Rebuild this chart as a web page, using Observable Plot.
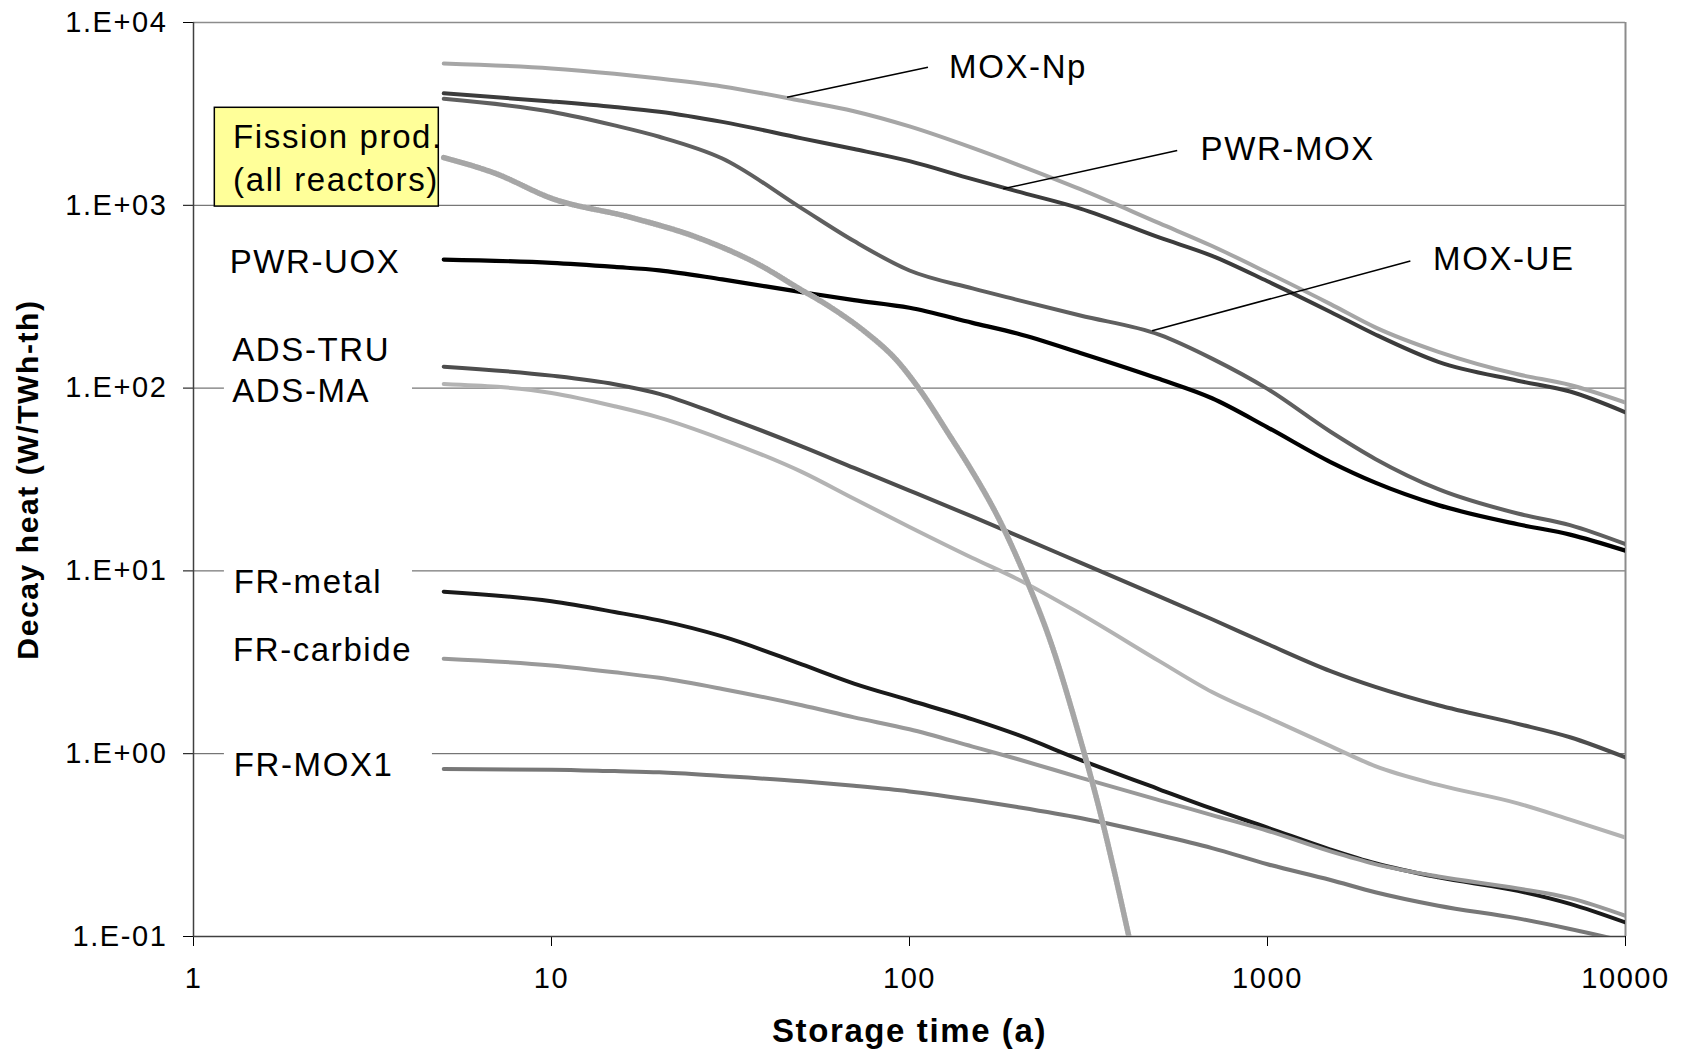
<!DOCTYPE html>
<html>
<head>
<meta charset="utf-8">
<script src="https://cdn.jsdelivr.net/npm/d3@7"></script>
<script src="https://cdn.jsdelivr.net/npm/@observablehq/plot@0.6"></script>
<style>
  body { margin: 0; background: #ffffff; }
  #chart svg text { letter-spacing: 1.6px; }
  #chart g[aria-label="annotation"] text { letter-spacing: 2.1px; }
  #chart g[aria-label="axis-title"] text { letter-spacing: -0.3px; }
</style>
</head>
<body>
<div id="chart"></div>
<script>
// ---- data (storage time in years, decay heat in W/TWh-th) ----
const years = [5, 10, 15, 20, 30, 50, 70, 100, 150, 200, 300, 500, 700, 1000, 1500, 2000, 3000, 5000, 7000, 10000];

const moxNp     = [5970, 5610, 5240, 4940, 4470, 3730, 3270, 2700, 2060, 1671, 1225, 796, 599, 428, 288, 215, 158, 119, 104, 83.3];
const pwrMox    = [4100, 3700, 3450, 3250, 2860, 2324, 2032, 1744, 1390, 1191, 960, 665, 529, 384, 261, 196.5, 139.2, 109.8, 95.8, 73.7];
const moxUe     = [3823, 3250, 2735, 2371, 1803, 962, 637, 440, 351, 304, 249.5, 195.5, 145, 99, 57.7, 41, 28.0, 20.6, 17.8, 14.0];
const pwrUox    = [505, 484, 460, 441, 393, 335, 303, 275, 227.5, 199, 155.8, 112, 88, 61, 39.4, 30.4, 22.9, 18.0, 15.8, 12.9];
const adsTru    = [131, 117, 105, 93, 70.5, 48.0, 36.6, 27.5, 19.8, 15.6, 11.1, 7.23, 5.44, 3.98, 2.83, 2.32, 1.84, 1.457, 1.23, 0.954];
const adsMa     = [105.4, 94.1, 79.6, 69.0, 52.5, 34.8, 24.8, 17.4, 11.77, 9.03, 5.83, 3.20, 2.175, 1.579, 1.10, 0.855, 0.675, 0.535, 0.436, 0.348];
const frMetal   = [7.70, 6.82, 5.96, 5.36, 4.38, 3.08, 2.42, 1.96, 1.54, 1.27, 0.926, 0.637, 0.50, 0.394, 0.299, 0.2515, 0.2106, 0.1777, 0.1508, 0.1193];
const frCarbide = [3.31, 3.04, 2.79, 2.60, 2.26, 1.84, 1.58, 1.36, 1.094, 0.935, 0.74, 0.556, 0.4617, 0.379, 0.292, 0.249, 0.2129, 0.1833, 0.1622, 0.1298];
const frMox1    = [0.824, 0.818, 0.803, 0.791, 0.755, 0.706, 0.667, 0.622, 0.558, 0.5106, 0.445, 0.358, 0.3045, 0.2486, 0.2038, 0.1747, 0.1474, 0.1256, 0.1099, 0.0939];

const seriesNames  = ["MOX-Np", "PWR-MOX", "MOX-UE", "PWR-UOX", "ADS-TRU", "ADS-MA", "FR-metal", "FR-carbide", "FR-MOX1"];
const seriesValues = [moxNp, pwrMox, moxUe, pwrUox, adsTru, adsMa, frMetal, frCarbide, frMox1];

// fission products (all reactors)
const fpYears  = [5, 7, 10, 16.6, 25.5, 39.2, 48.5, 60.2, 74.5, 92.4, 107.3, 130, 145, 179.5, 213, 248, 294, 342, 380, 410];
const fpValues = [1824, 1490, 1092, 860, 668, 458, 356, 277, 206, 141, 96.8, 54.3, 38.8, 18.5, 8.8, 4.08, 1.377, 0.465, 0.195, 0.1];

// axis ticks
const xTicks = [1, 10, 100, 1000, 10000];
const yTicks = [0.1, 1, 10, 100, 1000, 10000];

// ---- styles ----
const seriesColors = ["#a6a6a6", "#3c3c3c", "#5f5f5f", "#000000", "#4d4d4d", "#b3b3b3", "#1a1a1a", "#999999", "#777777"];
const seriesWidths = [4.0, 4.0, 4.0, 4.2, 4.0, 4.0, 4.0, 4.0, 4.0];

// ---- annotations (placed in data coordinates) ----
const leftLabels  = ["PWR-UOX", "ADS-TRU", "ADS-MA", "FR-metal", "FR-carbide", "FR-MOX1"];
const leftLabelT  = [1.262, 1.283, 1.283, 1.296, 1.289, 1.296];
const leftLabelV  = [486, 160.4, 95.4, 8.62, 3.66, 0.8625];
const leftBoxEndT = [4.6, 4.09, 4.09, 4.09, 4.59, 4.65];

const rightLabels  = ["MOX-Np", "PWR-MOX", "MOX-UE"];
const rightLabelT  = [129, 650, 2900];
const rightLabelV  = [5650, 2026, 502.7];
const leaderFromT  = [45.5, 182.7, 476];
const leaderFromV  = [3897, 1231, 206];
const leaderToT    = [112.6, 559.6, 2507];
const leaderToV    = [5693, 1993, 495.5];

const fpBoxT = [1.147, 4.844];
const fpBoxV = [984, 3415];
const fpLabel = "Fission prod.\n(all reactors)";
const fpLabelT = 1.29;
const fpLabelV = 1870;

// ---- build tables ----
const tidy = seriesNames.map((name, i) => years.map((t, j) => ({series: name, t, v: seriesValues[i][j]})));
const fpData = fpYears.map((t, j) => ({t, v: fpValues[j]}));
const leftData = leftLabels.map((s, i) => ({s, t: leftLabelT[i], v: leftLabelV[i], end: leftBoxEndT[i]}));
const rightData = rightLabels.map((s, i) => ({s, t: rightLabelT[i], v: rightLabelV[i],
  x1: leaderFromT[i], y1: leaderFromV[i], x2: leaderToT[i], y2: leaderToV[i]}));

const yFmt = d => {
  const e = Math.round(Math.log10(d));
  return "1.E" + (e < 0 ? "-" : "+") + String(Math.abs(e)).padStart(2, "0");
};

const lineMarks = seriesNames.map((name, i) =>
  Plot.line(tidy[i], {x: "t", y: "v", stroke: seriesColors[i], strokeWidth: seriesWidths[i],
    curve: "monotone-x", clip: true})
);

const chart = Plot.plot({
  width: 1687,
  height: 1050,
  marginLeft: 193,
  marginRight: 62,
  marginTop: 22,
  marginBottom: 114,
  style: {fontFamily: "'Liberation Sans', Arial, sans-serif", fontSize: "29px", background: "#ffffff", color: "#000000"},
  x: {type: "log", domain: [1, 10000], ticks: xTicks, tickFormat: d => String(d), tickSize: 10, tickPadding: 21, label: null},
  y: {type: "log", domain: [0.1, 10000], ticks: yTicks, tickFormat: yFmt, tickSize: 10, tickPadding: 16, label: null},
  marks: [
    Plot.ruleY(yTicks.slice(1, -1), {stroke: "#555555", strokeWidth: 1}),
    Plot.ruleY([10000], {stroke: "#8c8c8c", strokeWidth: 1.5}),
    Plot.ruleX([10000], {stroke: "#8c8c8c", strokeWidth: 2}),
    Plot.ruleX([1], {stroke: "#404040", strokeWidth: 1.5}),
    Plot.ruleY([0.1], {stroke: "#404040", strokeWidth: 1.5}),
    // white backgrounds of the left labels
    Plot.rect(leftData, {x1: () => 1.22, x2: "end", y1: d => d.v / 1.3, y2: d => d.v * 1.3, fill: "#ffffff"}),
    ...lineMarks,
    // fission products: light band with darker stripes
    Plot.line(fpData, {x: "t", y: "v", stroke: "#dcdcdc", strokeWidth: 5.5, curve: "monotone-x", clip: true}),
    Plot.line(fpData, {x: "t", y: "v", stroke: "#a6a6a6", strokeWidth: 5.5, strokeDasharray: "1,1.8", curve: "monotone-x", clip: true}),
    // yellow label box
    Plot.rect([0], {x1: () => fpBoxT[0], x2: () => fpBoxT[1], y1: () => fpBoxV[0], y2: () => fpBoxV[1],
      fill: "#ffff99", stroke: "#000000", strokeWidth: 1.5}),
    Plot.text([fpLabel], {x: () => fpLabelT, y: () => fpLabelV, text: d => d, textAnchor: "start",
      fontSize: 33, lineHeight: 1.3, fill: "#000000", ariaLabel: "annotation"}),
    // left labels
    Plot.text(leftData, {x: "t", y: "v", text: "s", textAnchor: "start", fontSize: 33, fill: "#000000", ariaLabel: "annotation"}),
    // leader lines and right labels
    Plot.link(rightData, {x1: "x1", y1: "y1", x2: "x2", y2: "y2", stroke: "#000000", strokeWidth: 1.5}),
    Plot.text(rightData, {x: "t", y: "v", text: "s", textAnchor: "start", fontSize: 33, fill: "#000000", ariaLabel: "annotation"}),
    // axis titles
    Plot.text(["Decay heat (W/TWh-th)"], {frameAnchor: "left", dx: -165, rotate: -90, text: d => d,
      textAnchor: "middle", lineAnchor: "middle",
      fontSize: 30, fontWeight: "bold", ariaLabel: "axis-title", fill: "#000000"}),
    Plot.text(["Storage time (a)"], {frameAnchor: "bottom", dy: 95, text: d => d,
      textAnchor: "middle", lineAnchor: "middle",
      fontSize: 33, fontWeight: "bold", ariaLabel: "axis-title", fill: "#000000"})
  ]
});

document.getElementById("chart").appendChild(chart);
</script>
</body>
</html>
